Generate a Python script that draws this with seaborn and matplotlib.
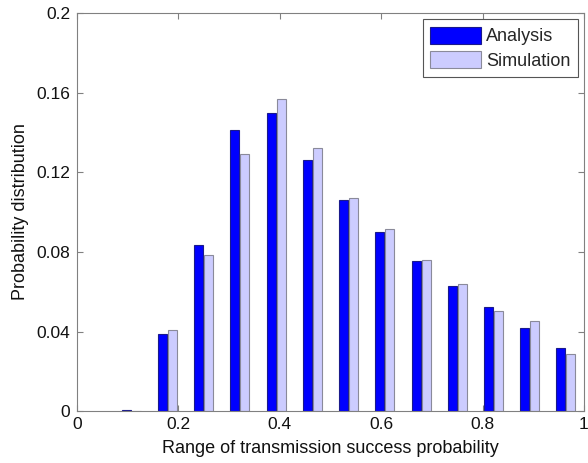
import numpy as np
import pandas as pd
import matplotlib
matplotlib.use("Agg")
import matplotlib.pyplot as plt
import seaborn as sns
from matplotlib.patches import Patch
from matplotlib.ticker import FuncFormatter

# Bin centres of the success-probability histogram (14 equal bins, first one empty)
bin_centers = [0.107, 0.179, 0.250, 0.321, 0.393, 0.464, 0.536,
               0.607, 0.679, 0.750, 0.821, 0.893, 0.964]
analysis = [0.0008, 0.0387, 0.0834, 0.1412, 0.1496, 0.1260, 0.1060,
            0.0898, 0.0752, 0.0628, 0.0521, 0.0420, 0.0315]
simulation = [0.0, 0.0410, 0.0786, 0.1290, 0.1566, 0.1320, 0.1069,
              0.0915, 0.0759, 0.0640, 0.0503, 0.0452, 0.0288]
series_names = ["Analysis", "Simulation"]
x_ticks = [0, 0.2, 0.4, 0.6, 0.8, 1.0]
y_ticks = [0, 0.04, 0.08, 0.12, 0.16, 0.2]

df = pd.DataFrame({
    "center": bin_centers * 2,
    "value": analysis + simulation,
    "series": [series_names[0]] * len(analysis) + [series_names[1]] * len(simulation),
})

sns.set_theme(style="white")
plt.rcParams["font.family"] = ["Liberation Sans", "DejaVu Sans"]

face = {"Analysis": "#0000ff", "Simulation": "#ccccff"}
edge = {"Analysis": "#1a1a8c", "Simulation": "#8a8a9a"}

fig = plt.figure(figsize=(5.88, 4.63), dpi=100)
ax = fig.add_axes([0.131, 0.112, 0.862, 0.860])

sns.barplot(data=df, x="center", y="value", hue="series", hue_order=series_names,
            native_scale=True, palette=face, saturation=1, width=0.55, gap=0.1,
            errorbar=None, linewidth=0.8, legend=False, ax=ax)

for container, name in zip(ax.containers, series_names):
    for bar in container:
        bar.set_edgecolor(edge[name])
        bar.set_linewidth(0.8)

ax.set_xlim(0, 1)
ax.set_ylim(0, 0.2)
ax.set_xticks(x_ticks)
ax.set_yticks(y_ticks)
fmt = FuncFormatter(lambda v, _: f"{v:g}")
ax.xaxis.set_major_formatter(fmt)
ax.yaxis.set_major_formatter(fmt)

for s in ax.spines.values():
    s.set_visible(True)
    s.set_color("#808080")
    s.set_linewidth(0.8)
ax.tick_params(axis="both", which="major", direction="in", length=4, width=0.8,
               color="#808080", labelsize=12.5, labelcolor="#111111",
               top=True, right=True, bottom=True, left=True)
ax.tick_params(axis="x", pad=4)
ax.tick_params(axis="y", pad=5)

ax.set_xlabel("Range of transmission success probability", fontsize=13,
              color="#111111", labelpad=6)
ax.set_ylabel("Probability distribution", fontsize=13, color="#111111", labelpad=5)

handles = [Patch(facecolor=face[n], edgecolor=edge[n], linewidth=0.8) for n in series_names]
leg = ax.legend(handles, series_names, loc="upper right", fontsize=13,
                frameon=True, fancybox=False, framealpha=1, edgecolor="#555555",
                handlelength=2.8, handleheight=1.1, handletextpad=0.3,
                borderpad=0.4, labelspacing=0.3, borderaxespad=0.35)
leg.get_frame().set_linewidth(0.8)

fig.savefig("out.png", dpi=100)
